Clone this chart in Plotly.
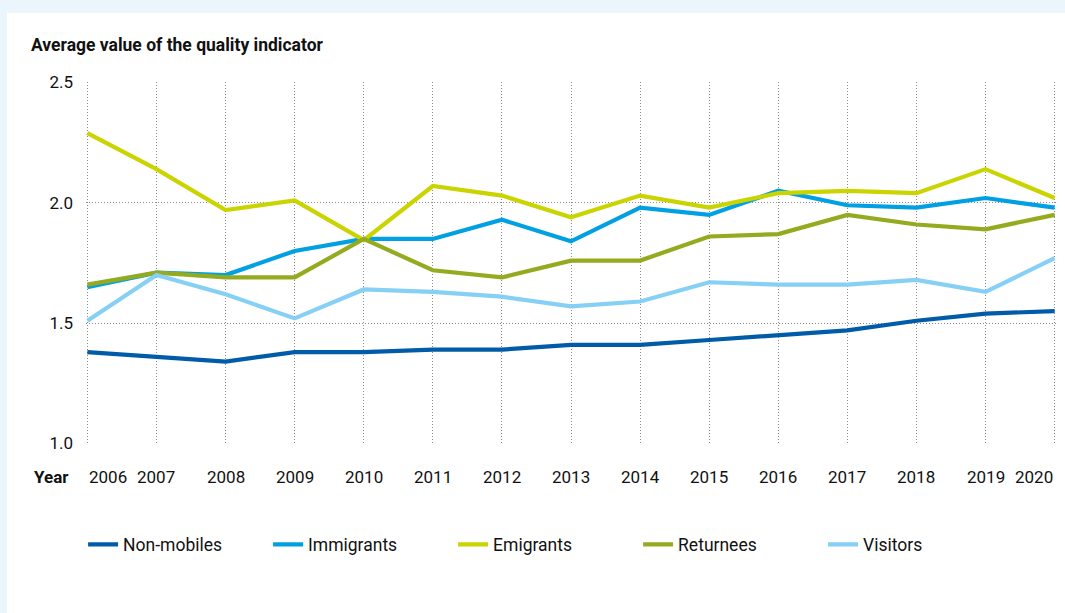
import plotly.graph_objects as go

years = [2006, 2007, 2008, 2009, 2010, 2011, 2012, 2013, 2014, 2015, 2016, 2017, 2018, 2019, 2020]
year_labels = [str(y) for y in years]

non_mobiles = [1.38, 1.36, 1.34, 1.38, 1.38, 1.39, 1.39, 1.41, 1.41, 1.43, 1.45, 1.47, 1.51, 1.54, 1.55]
immigrants = [1.65, 1.71, 1.70, 1.80, 1.85, 1.85, 1.93, 1.84, 1.98, 1.95, 2.05, 1.99, 1.98, 2.02, 1.98]
emigrants = [2.29, 2.14, 1.97, 2.01, 1.845, 2.07, 2.03, 1.94, 2.03, 1.98, 2.04, 2.05, 2.04, 2.14, 2.02]
returnees = [1.66, 1.71, 1.69, 1.69, 1.85, 1.72, 1.69, 1.76, 1.76, 1.86, 1.87, 1.95, 1.91, 1.89, 1.95]
visitors = [1.51, 1.70, 1.62, 1.52, 1.64, 1.63, 1.61, 1.57, 1.59, 1.67, 1.66, 1.66, 1.68, 1.63, 1.77]

series = [
    ("Non-mobiles", non_mobiles, "#005ca8"),
    ("Immigrants", immigrants, "#00a0e2"),
    ("Emigrants", emigrants, "#cad400"),
    ("Returnees", returnees, "#95ab1f"),
    ("Visitors", visitors, "#86d0f5"),
]

y_ticks = [1.0, 1.5, 2.0, 2.5]
title_text = "Average value of the quality indicator"
FONT = "Roboto, DejaVu Sans Condensed, sans-serif"
GRID = dict(showgrid=True, griddash="1px,2px", gridcolor="#8a8a8a", gridwidth=1,
            zeroline=False, showline=False, ticks="")

fig = go.Figure()
for name, vals, color in series:
    fig.add_trace(go.Scatter(x=years, y=vals, name=name, mode="lines",
                             line=dict(color=color, width=4.2)))

# x tick labels as annotations (edge labels kept inside the plot width)
for i, (yr, lab) in enumerate(zip(years, year_labels)):
    anchor = "left" if i == 0 else ("right" if i == len(years) - 1 else "center")
    fig.add_annotation(x=yr, y=-0.09, xref="x", yref="paper", text=lab,
                       showarrow=False, xanchor=anchor, yanchor="middle",
                       font=dict(size=17, color="#111111", family=FONT))
fig.add_annotation(x=-0.036, y=-0.09, xref="paper", yref="paper", text="<b>Year</b>",
                   showarrow=False, xanchor="center", yanchor="middle",
                   font=dict(size=17, color="#111111", family=FONT))
fig.add_annotation(x=-0.059, y=1.103, xref="paper", yref="paper", text="<b>" + title_text + "</b>",
                   showarrow=False, xanchor="left", yanchor="middle",
                   font=dict(size=17.5, color="#111111", family=FONT))

# white card on light blue page
fig.add_shape(type="rect", xref="paper", yref="paper", x0=-0.0814, x1=1.05, y0=-0.6, y1=1.1916,
              fillcolor="white", line=dict(width=0), layer="below")

fig.update_layout(
    width=1065, height=613,
    paper_bgcolor="#eaf5fc", plot_bgcolor="rgba(0,0,0,0)",
    margin=dict(l=86, r=9, t=81.5, b=168.7),
    font=dict(family=FONT, size=17, color="#111111"),
    showlegend=True,
    legend=dict(orientation="h", x=-0.003, xanchor="left", y=-0.2776, yanchor="middle",
                font=dict(size=17.5, family=FONT, color="#111111"),
                entrywidth=140, entrywidthmode="pixels", bgcolor="rgba(0,0,0,0)"),
    xaxis=dict(range=[2005.98, 2020.02], tickvals=years, showticklabels=False, **GRID),
    yaxis=dict(range=[0.998, 2.502], tickvals=y_ticks, tickformat=".1f", ticklabelstandoff=12,
               tickfont=dict(size=17, family=FONT, color="#111111"), **GRID),
)

fig.write_html("out.html", config={"displayModeBar": False},
               post_script="document.body.style.margin='0';document.body.style.background='#eaf5fc';")
